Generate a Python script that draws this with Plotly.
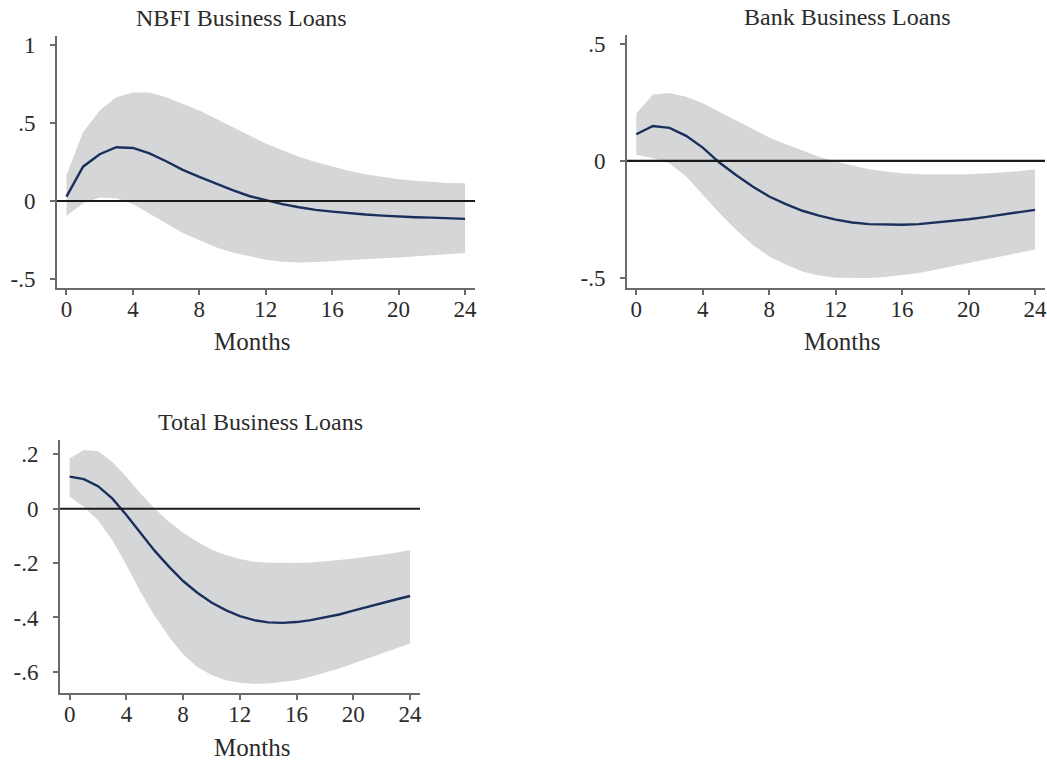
import plotly.graph_objects as go

months = list(range(25))

nbfi_irf = [0.028, 0.22, 0.30, 0.345, 0.34, 0.305, 0.255, 0.20, 0.155, 0.11, 0.07, 0.032, 0.006,
            -0.02, -0.04, -0.057, -0.068, -0.079, -0.087, -0.094, -0.10, -0.104, -0.107, -0.11, -0.115]
nbfi_hi = [0.166, 0.44, 0.58, 0.666, 0.695, 0.695, 0.666, 0.623, 0.58, 0.528, 0.474, 0.42, 0.368,
           0.325, 0.283, 0.25, 0.22, 0.194, 0.172, 0.155, 0.14, 0.13, 0.121, 0.115, 0.113]
nbfi_lo = [-0.096, -0.015, 0.023, 0.017, -0.02, -0.079, -0.143, -0.206, -0.253, -0.296, -0.33, -0.355, -0.377,
           -0.39, -0.394, -0.392, -0.387, -0.381, -0.374, -0.368, -0.362, -0.355, -0.349, -0.343, -0.334]

bank_irf = [0.114, 0.149, 0.141, 0.107, 0.057, -0.007, -0.06, -0.109, -0.152, -0.185, -0.213, -0.234, -0.251,
            -0.263, -0.27, -0.273, -0.273, -0.27, -0.264, -0.257, -0.249, -0.24, -0.23, -0.22, -0.209]
bank_hi = [0.203, 0.284, 0.29, 0.274, 0.246, 0.21, 0.172, 0.135, 0.10, 0.071, 0.044, 0.018, -0.003,
           -0.021, -0.036, -0.045, -0.053, -0.057, -0.058, -0.058, -0.057, -0.054, -0.05, -0.044, -0.036]
bank_lo = [0.026, 0.011, -0.01, -0.067, -0.145, -0.223, -0.294, -0.358, -0.408, -0.443, -0.472, -0.49, -0.499,
           -0.501, -0.5, -0.496, -0.489, -0.479, -0.465, -0.45, -0.436, -0.422, -0.408, -0.393, -0.379]

total_irf = [0.118, 0.109, 0.083, 0.038, -0.023, -0.091, -0.155, -0.213, -0.266, -0.309, -0.345, -0.373, -0.395,
             -0.41, -0.418, -0.42, -0.417, -0.41, -0.40, -0.389, -0.375, -0.361, -0.346, -0.334, -0.321]
total_hi = [0.185, 0.216, 0.212, 0.173, 0.118, 0.056, 0.001, -0.048, -0.088, -0.121, -0.15, -0.17, -0.185,
            -0.195, -0.199, -0.20, -0.20, -0.198, -0.194, -0.189, -0.183, -0.177, -0.169, -0.162, -0.152]
total_lo = [0.044, 0.007, -0.042, -0.115, -0.207, -0.306, -0.395, -0.471, -0.535, -0.582, -0.612, -0.631, -0.64,
            -0.644, -0.643, -0.638, -0.631, -0.618, -0.604, -0.588, -0.569, -0.551, -0.533, -0.514, -0.496]

titles = ["NBFI Business Loans", "Bank Business Loans", "Total Business Loans"]
x_label = "Months"
x_ticks = [0, 4, 8, 12, 16, 20, 24]
y_ticks = [
    ([-0.5, 0, 0.5, 1], ["-.5", "0", ".5", "1"]),
    ([-0.5, 0, 0.5], ["-.5", "0", ".5"]),
    ([-0.6, -0.4, -0.2, 0, 0.2], ["-.6", "-.4", "-.2", "0", ".2"]),
]

W, H = 1047, 763
FONT = "Liberation Serif"
TXT = "#2b2b2b"
LINE = "#1b2f5c"
BAND = "#d5d6d8"
AXC = "#6b6b6b"

# pixel boxes (left, right, top, bottom)
boxes = [(57, 475, 36, 288), (627, 1045, 35, 288), (60, 420, 440, 693)]
xranges = [(-0.57, 24.6), (-0.56, 24.6), (-0.68, 24.7)]
yranges = [(-0.558, 1.058), (-0.543, 0.538), (-0.678, 0.253)]
title_x = [241, 847, 260]
label_x = [252, 842, 252]

data = [(nbfi_irf, nbfi_lo, nbfi_hi), (bank_irf, bank_lo, bank_hi), (total_irf, total_lo, total_hi)]

fig = go.Figure()
annotations = []
shapes = []
for i, ((irf, lo, hi), (l, r, t, b)) in enumerate(zip(data, boxes)):
    xa = "x" if i == 0 else f"x{i+1}"
    ya = "y" if i == 0 else f"y{i+1}"
    fig.add_trace(go.Scatter(x=months, y=hi, xaxis=xa, yaxis=ya, mode="lines",
                             line=dict(width=0, color=BAND), hoverinfo="skip", showlegend=False))
    fig.add_trace(go.Scatter(x=months, y=lo, xaxis=xa, yaxis=ya, mode="lines", fill="tonexty",
                             fillcolor=BAND, line=dict(width=0, color=BAND), hoverinfo="skip", showlegend=False))
    shapes.append(dict(type="line", xref=f"{xa} domain", yref=ya, x0=0, x1=1, y0=0, y1=0,
                       line=dict(color="#1a1a1a", width=2.2), layer="above"))
    fig.add_trace(go.Scatter(x=months, y=irf, xaxis=xa, yaxis=ya, mode="lines",
                             line=dict(width=2.4, color=LINE), showlegend=False))
    key = "" if i == 0 else str(i + 1)
    fig.update_layout(**{
        f"xaxis{key}": dict(domain=[l / W, r / W], range=list(xranges[i]), anchor=ya, automargin=False,
                            tickvals=x_ticks, ticks="outside", ticklen=5, tickcolor=AXC, tickwidth=1.5,
                            showline=True, linecolor=AXC, linewidth=2, showgrid=False, zeroline=False,
                            ticklabelstandoff=-6, ticklabeloverflow="allow",
                            tickfont=dict(family=FONT, size=23, color=TXT)),
        f"yaxis{key}": dict(domain=[1 - b / H, 1 - t / H], range=list(yranges[i]), anchor=xa, automargin=False,
                            tickvals=y_ticks[i][0], ticktext=y_ticks[i][1], ticks="outside", ticklen=5,
                            tickcolor=AXC, tickwidth=1.5, showline=True, linecolor=AXC, linewidth=2,
                            showgrid=False, zeroline=False, ticklabelstandoff=10, ticklabeloverflow="allow",
                            tickfont=dict(family=FONT, size=23, color=TXT)),
    })
    annotations.append(dict(text=titles[i], xref="paper", yref="paper", x=title_x[i] / W,
                            y=1 - (t - 18) / H, xanchor="center", yanchor="middle", showarrow=False,
                            font=dict(family=FONT, size=24, color=TXT)))
    annotations.append(dict(text=x_label, xref="paper", yref="paper", x=label_x[i] / W,
                            y=1 - (b + 54) / H, xanchor="center", yanchor="middle", showarrow=False,
                            font=dict(family=FONT, size=25, color=TXT)))

fig.update_layout(width=W, height=H, margin=dict(l=0, r=0, t=0, b=0),
                  paper_bgcolor="white", plot_bgcolor="white",
                  annotations=annotations, shapes=shapes)
fig.write_html("out.html", config={"displayModeBar": False},
               post_script="document.body.style.margin='0';document.body.style.overflow='hidden';")
